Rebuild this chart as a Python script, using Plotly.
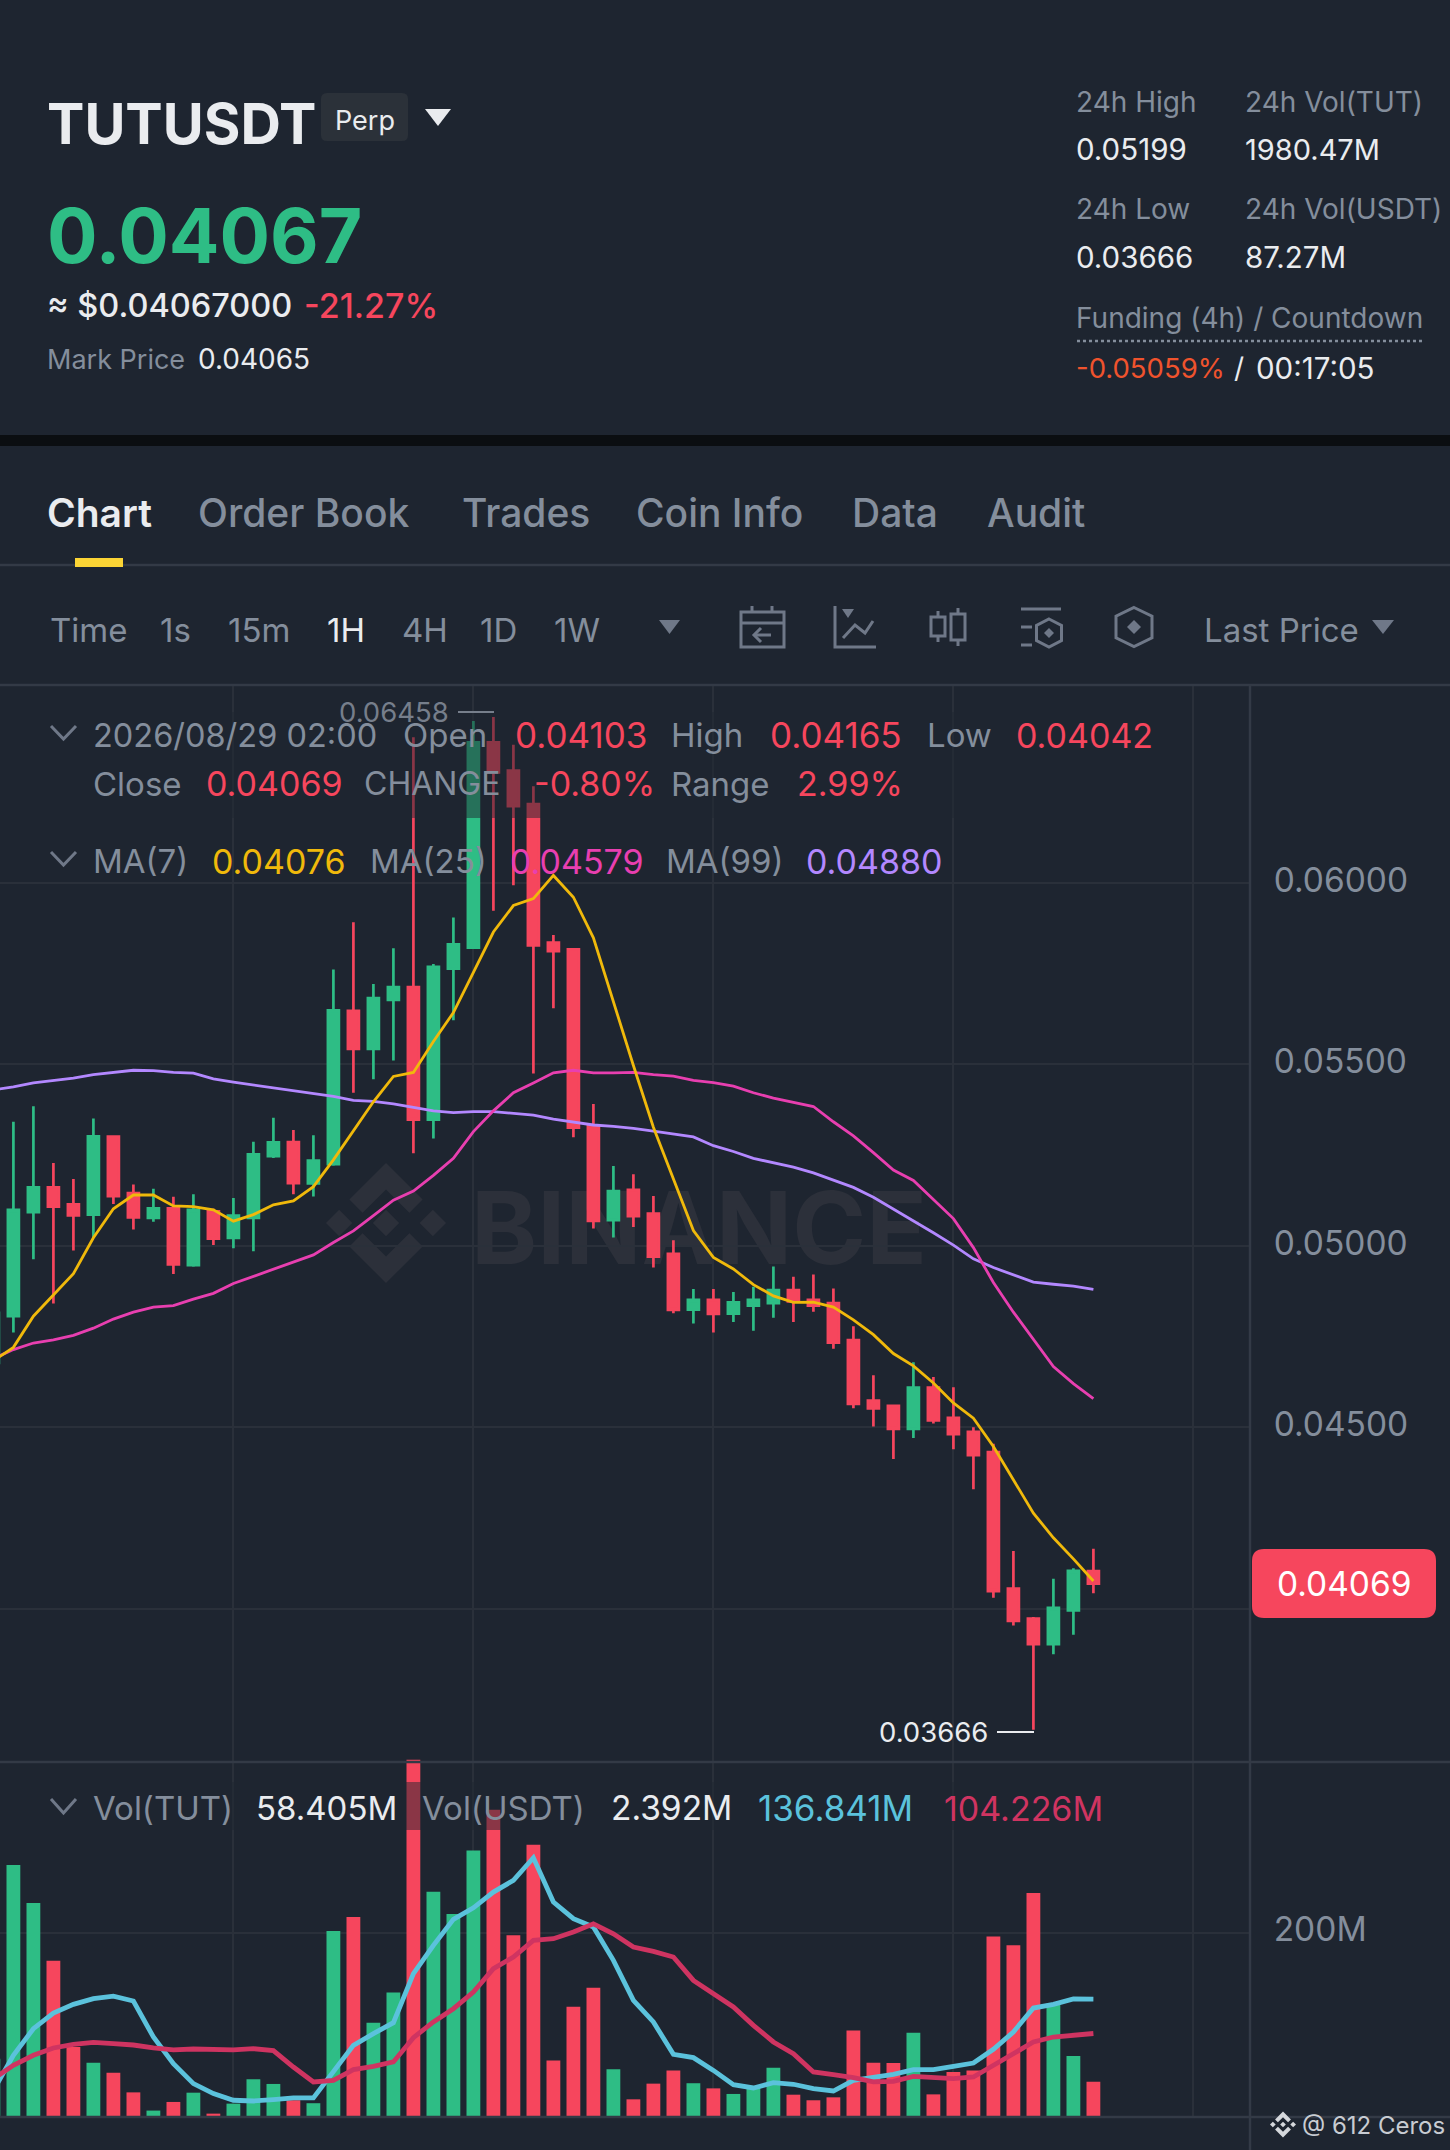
import plotly.graph_objects as go

# ---------- data ----------
candle_index = list(range(-1, 55))
opens = [.04677,.04806,.05093,.05161,.05114,.05086,.05301,.05145,.05077,.05103,.04947,.05095,.05022,.05077,.05247,.05286,.05172,.05225,.05648,.05543,.05678,.05713,.05348,.05764,.05822,.06388,.06310,.06218,.05836,.05817,.05329,.05071,.05154,.05089,.04978,.04824,.04851,.04813,.04835,.04842,.04878,.04851,.04842,.04740,.04573,.04559,.04495,.04609,.04526,.04487,.04431,.04055,.03972,.03902,.03995,.04103]
highs = [.04830,.05342,.05385,.05228,.05184,.05351,.05305,.05169,.05157,.05135,.05142,.05102,.05132,.05287,.05353,.05319,.05305,.05762,.05892,.05722,.05820,.06402,.05777,.05905,.06447,.06458,.06381,.06267,.05857,.05817,.05391,.05220,.05197,.05137,.05015,.04881,.04881,.04873,.04887,.04943,.04915,.04921,.04882,.04778,.04643,.04559,.04679,.04638,.04610,.04500,.04454,.04159,.03977,.04082,.04111,.04165]
lows = [.04660,.04761,.04963,.04841,.04987,.05022,.05115,.05045,.05066,.04922,.04942,.05002,.04993,.04985,.05242,.05142,.05136,.05221,.05422,.05459,.05511,.05255,.05296,.05622,.05820,.05924,.05994,.05475,.05655,.05299,.05048,.05023,.05052,.04940,.04814,.04786,.04761,.04790,.04766,.04802,.04790,.04818,.04716,.04552,.04502,.04412,.04470,.04510,.04439,.04329,.04030,.03953,.03666,.03874,.03928,.04042]
closes = [.04815,.05099,.05161,.05108,.05084,.05302,.05137,.05078,.05103,.04949,.05099,.05020,.05083,.05252,.05285,.05173,.05235,.05649,.05543,.05683,.05713,.05348,.05769,.05831,.06388,.06305,.06212,.05828,.05812,.05326,.05069,.05151,.05082,.04970,.04823,.04851,.04812,.04844,.04851,.04878,.04847,.04835,.04733,.04564,.04552,.04495,.04609,.04519,.04481,.04423,.04048,.03966,.03902,.04002,.04104,.04069]
ma7 = [.04683,.0472,.04806,.04864,.04923,.05022,.05102,.0514,.0514,.0511,.05108,.05099,.05068,.05086,.05113,.05124,.05163,.05237,.05317,.05397,.05467,.05478,.05563,.05643,.05754,.05865,.05938,.05957,.06021,.05961,.05849,.05672,.05497,.05327,.05183,.05042,.04968,.04936,.04893,.04862,.04844,.04845,.04831,.04796,.04755,.04703,.04669,.04622,.04567,.04525,.04447,.04355,.04263,.04195,.04137,.04076]
ma25 = [.04689,.04714,.04732,.04741,.04753,.04773,.04798,.04817,.04831,.04835,.04853,.04869,.04896,.04916,.04936,.04955,.04975,.05009,.05041,.05083,.05126,.05151,.05194,.05241,.05315,.05372,.05422,.05449,.05477,.05484,.05477,.05477,.05478,.05472,.05468,.05456,.0545,.0544,.05422,.05407,.05395,.05384,.05342,.05303,.05257,.05209,.0518,.05128,.05075,.04995,.04899,.04817,.04743,.04667,.0462,.04579]
ma99 = [.0543,.05438,.05449,.05456,.05462,.05472,.05479,.05484,.05483,.05478,.05476,.0546,.05451,.05443,.05435,.05427,.0542,.05412,.05401,.05398,.05391,.05381,.05372,.05367,.0537,.0537,.05366,.0536,.05349,.0534,.05333,.05329,.05324,.05316,.05309,.053,.05276,.0526,.05241,.05229,.05217,.05201,.05182,.05161,.05134,.05102,.05069,.05036,.05002,.04964,.0494,.04919,.049,.04894,.04889,.0488]
volume_m = [80.3,264.3,228.2,173.4,91.4,76.5,67,48.3,31,39.2,48,28.1,37.6,60.7,56.3,40.8,38,201.6,214.9,114.5,143.3,364.3,238.9,217.7,278.2,316.8,197.5,283.6,78.7,129.7,147.8,70.2,41.7,56.6,69,57,52.1,46.8,53.4,71.8,46.1,40.8,43.6,107.2,76.5,76.2,105,46.4,67.7,69.2,196.5,188,237.7,132.6,82.9,58.405]
vol_ma7 = [50,83.5,108.8,123.7,131.9,137.3,139.8,135.1,100.9,75.6,56.6,47.1,40.8,40.1,41.4,43,43,67.7,93,104.1,114.5,161.1,188,212.7,223.7,238.6,249.7,271.2,229.1,213.3,205.4,173.7,135.7,115.2,84.4,81.3,69.2,55.6,52.5,57.5,56,51.8,49.6,59.7,62.9,65.4,69.9,69.9,73,76.2,89.2,105.7,128.4,131.9,137,136.841]
vol_ma25 = [61.3,74,83.5,90.5,93.9,95.8,94.6,93.3,90.5,88.6,89.5,88.6,88.6,89.8,87.9,72.4,58.2,59.7,69.9,73,77.2,100.3,115.2,127.8,143.6,165.8,176.9,192.7,194.3,200.6,208.5,199,186.4,182.3,176.9,154.7,142.1,129.4,112,96.2,85,67.7,65.1,62.3,58.2,58.8,63.5,62.3,61.3,62.9,74,84.4,96.2,100.9,103.1,104.226]
price_ticks = [0.04, 0.045, 0.05, 0.055, 0.06]
price_tick_labels = ["", "0.04500", "0.05000", "0.05500", "0.06000"]
vol_ticks = [200]
vol_tick_labels = ["200M"]
time_grid = [11, 23, 35, 47, 59]

# ---------- page geometry ----------
W, H = 1450, 2150
FONT = "Inter"
BG, UP, DOWN = "#1e2530", "#2ebd85", "#f6465d"
GRID, SEP = "#2a303a", "#333a46"
GRAY, DIM, WHITE = "#848e9c", "#6f7888", "#eaecef"
px = lambda x: x / W
py = lambda y: 1 - y / H

annotations, shapes = [], []

def txt(x, y, text, size, color, anchor="left", weight=None):
    if anchor == "left":
        x -= 2
    annotations.append(dict(x=px(x), y=py(y), xref="paper", yref="paper", text=text, showarrow=False,
                            xanchor=anchor, yanchor="middle", borderpad=0,
                            font=dict(family=FONT, size=size, color=color, weight=weight)))

def path(points, closed=False):
    s = "M" + " L".join(f"{px(a):.5f},{py(b):.5f}" for a, b in points)
    return s + (" Z" if closed else "")

def stroke(points, color=DIM, width=2.5, closed=False, layer="above"):
    shapes.append(dict(type="path", xref="paper", yref="paper", path=path(points, closed),
                       line=dict(color=color, width=width), layer=layer))

def fill(points, color, layer="above"):
    shapes.append(dict(type="path", xref="paper", yref="paper", path=path(points, True),
                       fillcolor=color, line=dict(width=0), layer=layer))

def rect(x0, y0, x1, y1, color, layer="above"):
    shapes.append(dict(type="rect", xref="paper", yref="paper", x0=px(x0), x1=px(x1), y0=py(y1), y1=py(y0),
                       fillcolor=color, line=dict(width=0), layer=layer))

def rounded(x0, y0, x1, y1, r, color, layer="above"):
    fx, fy = px, py
    d = (f"M{fx(x0+r)},{fy(y0)} L{fx(x1-r)},{fy(y0)} Q{fx(x1)},{fy(y0)} {fx(x1)},{fy(y0+r)} "
         f"L{fx(x1)},{fy(y1-r)} Q{fx(x1)},{fy(y1)} {fx(x1-r)},{fy(y1)} L{fx(x0+r)},{fy(y1)} "
         f"Q{fx(x0)},{fy(y1)} {fx(x0)},{fy(y1-r)} L{fx(x0)},{fy(y0+r)} Q{fx(x0)},{fy(y0)} {fx(x0+r)},{fy(y0)} Z")
    shapes.append(dict(type="path", xref="paper", yref="paper", path=d, fillcolor=color, line=dict(width=0), layer=layer))

def hline(y, color=SEP, width=2, x0=0, x1=W):
    shapes.append(dict(type="line", xref="paper", yref="paper", x0=px(x0), x1=px(x1), y0=py(y), y1=py(y),
                       line=dict(color=color, width=width), layer="above"))

def hexagon(cx, cy, w, h):
    return [(cx, cy-h), (cx+w, cy-h*.55), (cx+w, cy+h*.55), (cx, cy+h), (cx-w, cy+h*.55), (cx-w, cy-h*.55)]

def diamond(cx, cy, r):
    return [(cx, cy-r), (cx+r, cy), (cx, cy+r), (cx-r, cy)]

def logo(cx, cy, r, color, layer):
    for dx in (-.78, 0, .78):
        fill(diamond(cx + dx*r, cy, .22*r), color, layer)
    for sgn in (-1, 1):
        fill([(cx, cy+sgn*r), (cx+.61*r, cy+sgn*.39*r), (cx+.39*r, cy+sgn*.17*r), (cx, cy+sgn*.56*r),
              (cx-.39*r, cy+sgn*.17*r), (cx-.61*r, cy+sgn*.39*r)], color, layer)

def tri(x0, x1, y0, y1, color):
    fill([(x0, y0), (x1, y0), ((x0+x1)/2, y1)], color)

def chevron(y0, y1):
    stroke([(51, y0), (63.5, y1), (76, y0)], DIM, 3)

# ---------- header ----------
rect(0, 435, W, 446, "#0b0e11")
txt(48, 124, "TUTUSDT", 56, WHITE, weight=700)
rounded(321, 93, 408, 141, 6, "#2b3139")
txt(364.5, 120, "Perp", 27, WHITE, "center")
tri(425, 451, 109, 126, WHITE)
txt(48, 235, "0.04067", 75, UP, weight=700)
txt(48, 306, "≈ $0.04067000", 32.5, WHITE, weight=500)
txt(305, 306, "-21.27%", 34, DOWN, weight=500)
txt(48, 359, "Mark Price", 27, GRAY)
txt(199, 359, "0.04065", 28, WHITE)
for x, y, t, c, s in [(1077, 102, "24h High", GRAY, 28), (1246, 102, "24h Vol(TUT)", GRAY, 28),
                      (1077, 149, "0.05199", WHITE, 29.5), (1246, 149, "1980.47M", WHITE, 29),
                      (1077, 209, "24h Low", GRAY, 28), (1246, 209, "24h Vol(USDT)", GRAY, 28),
                      (1077, 257, "0.03666", WHITE, 29.5), (1246, 257, "87.27M", WHITE, 29.5),
                      (1077, 318, "Funding (4h) / Countdown", GRAY, 28),
                      (1077, 368, "-0.05059%", "#f0532d", 27.5), (1235, 368, "/", WHITE, 28), (1257, 368, "00:17:05", WHITE, 29.5)]:
    txt(x, y, t, s, c)
shapes.append(dict(type="line", xref="paper", yref="paper", x0=px(1077), x1=px(1422), y0=py(341), y1=py(341),
                   line=dict(color=GRAY, width=2.5, dash="dot"), layer="above"))

# ---------- tabs ----------
for x, t, c, wt in [(48, "Chart", WHITE, 600), (199, "Order Book", GRAY, 500), (463, "Trades", GRAY, 500),
                    (637, "Coin Info", GRAY, 500), (853, "Data", GRAY, 500), (988, "Audit", GRAY, 500)]:
    txt(x, 512, t, 39, c, weight=wt)
hline(565, SEP, 2.5)
rect(75, 558, 123, 567, "#fcd535")

# ---------- time bar ----------
for x, t, c in [(51, "Time", GRAY), (161, "1s", GRAY), (229, "15m", GRAY), (328, "1H", WHITE),
                (403, "4H", GRAY), (481, "1D", GRAY), (555, "1W", GRAY), (1205, "Last Price", GRAY)]:
    txt(x, 630, t, 33, c)
tri(659, 680, 620, 634, DIM)
tri(1372, 1394, 620, 634, DIM)
hline(685, SEP, 2.5)
# icon: calendar
stroke([(741, 612), (784, 612), (784, 647), (741, 647)], DIM, 3, True)
stroke([(741, 623), (784, 623)], DIM, 3)
stroke([(752, 606), (752, 612)], DIM, 3); stroke([(772, 606), (772, 612)], DIM, 3)
stroke([(771, 635), (754, 635)], DIM, 3); stroke([(761, 628), (754, 635), (761, 642)], DIM, 3)
# icon: indicators
stroke([(835, 606), (835, 647), (876, 647)], DIM, 3)
tri(842, 854, 609, 618, DIM)
stroke([(843, 638), (855, 625), (865, 633), (873, 621)], DIM, 3)
# icon: candles
stroke([(931, 617), (945, 617), (945, 636), (931, 636)], DIM, 3, True)
stroke([(938, 611), (938, 617)], DIM, 3); stroke([(938, 636), (938, 642)], DIM, 3)
stroke([(951, 614), (965, 614), (965, 640), (951, 640)], DIM, 3, True)
stroke([(958, 608), (958, 614)], DIM, 3); stroke([(958, 640), (958, 646)], DIM, 3)
# icon: layout
stroke([(1021, 609), (1061, 609)], DIM, 3)
stroke([(1021, 627), (1032, 627)], DIM, 3); stroke([(1021, 645), (1032, 645)], DIM, 3)
stroke(hexagon(1049, 633, 12.5, 14), DIM, 3, True)
fill(diamond(1049, 633, 5), DIM)
# icon: hexagon
stroke(hexagon(1134, 627, 18, 19.5), DIM, 3, True)
fill(diamond(1134, 627, 7), DIM)

# ---------- watermark ----------
logo(386, 1223, 60, "#2c303a", "below")
shapes.append(dict(type="rect", xref="paper", yref="paper", x0=px(470), x1=px(928), y0=py(1262), y1=py(1186),
                   line=dict(width=0), fillcolor="rgba(0,0,0,0)", layer="below",
                   label=dict(text="<b>BINANCE</b>", textposition="middle center",
                              font=dict(family=FONT, size=100, color="#2c303a"))))

# ---------- legend bands and legends ----------
rect(0, 712, 1160, 818, "rgba(30,37,48,0.5)")
rect(0, 1782, 1120, 1830, "rgba(30,37,48,0.5)")
chevron(726, 739)
NUM, LBL = 35, 33
for x, y, t, c, s in [(94, 735, "2026/08/29 02:00", GRAY, 32.5), (404, 735, "Open", GRAY, LBL), (516, 735, "0.04103", DOWN, NUM),
                      (672, 735, "High", GRAY, LBL), (771, 735, "0.04165", DOWN, NUM), (928, 735, "Low", GRAY, LBL), (1017, 735, "0.04042", DOWN, 34),
                      (94, 784, "Close", GRAY, LBL), (207, 784, "0.04069", DOWN, 34), (365, 784, "CHANGE", GRAY, 32), (535, 784, "-0.80%", DOWN, 34),
                      (672, 784, "Range", GRAY, LBL), (798, 784, "2.99%", DOWN, 34),
                      (94, 861, "MA(7)", GRAY, LBL), (213, 861, "0.04076", "#f0b90b", 34), (371, 861, "MA(25)", GRAY, LBL), (511, 861, "0.04579", "#e83fb0", 34),
                      (667, 861, "MA(99)", GRAY, LBL), (807, 861, "0.04880", "#b388ff", 34),
                      (94, 1808, "Vol(TUT)", GRAY, LBL), (257, 1808, "58.405M", WHITE, LBL), (423, 1808, "Vol(USDT)", GRAY, LBL),
                      (612, 1808, "2.392M", WHITE, 33.5), (759, 1808, "136.841M", "#5bc2dc", 35), (945, 1808, "104.226M", "#cf3461", 34)]:
    txt(x, y, t, s, c)
chevron(852, 865)
chevron(1799, 1813)

# ---------- high / low marks ----------
txt(450, 712, "0.06458", 27.5, "#767e8b", "right")
hline(712, "#767e8b", 2, 458, 494)
txt(988.5, 1732, "0.03666", 27.5, WHITE, "right")
hline(1732, WHITE, 2, 997, 1034)

# ---------- last price tag ----------
rounded(1252, 1549, 1436, 1618, 12, DOWN)
txt(1344, 1584, "0.04069", 33.5, "#ffffff", "center")

# ---------- pane lines ----------
hline(1762, SEP, 2.5)
hline(2117, SEP, 2.5)
shapes.append(dict(type="line", xref="paper", yref="paper", x0=px(1250), x1=px(1250), y0=py(685), y1=0,
                   line=dict(color=SEP, width=2.5), layer="above"))

# ---------- footer ----------
logo(1283, 2124.5, 13, "#d5d8dc", "above")
txt(1303, 2125, "@ 612 Ceros", 24, "#c8ccd2")

# ---------- traces ----------
fig = go.Figure()
fig.add_trace(go.Candlestick(x=candle_index, open=opens, high=highs, low=lows, close=closes,
                             increasing=dict(line=dict(color=UP, width=2.7), fillcolor=UP),
                             decreasing=dict(line=dict(color=DOWN, width=2.7), fillcolor=DOWN),
                             whiskerwidth=0, xaxis="x", yaxis="y", showlegend=False))
for name, vals, color in [("MA(99)", ma99, "#b388ff"), ("MA(25)", ma25, "#e83fb0"), ("MA(7)", ma7, "#f0b90b")]:
    fig.add_trace(go.Scatter(x=candle_index, y=vals, mode="lines", name=name,
                             line=dict(color=color, width=2.8), xaxis="x", yaxis="y", showlegend=False))
bar_colors = [UP if c > o else DOWN for o, c in zip(opens, closes)]
fig.add_trace(go.Bar(x=candle_index, y=volume_m, marker=dict(color=bar_colors, line=dict(width=0)), width=0.69,
                     xaxis="x2", yaxis="y2", showlegend=False))
for name, vals, color in [("Vol MA(7)", vol_ma7, "#5bc2dc"), ("Vol MA(25)", vol_ma25, "#cf3461")]:
    fig.add_trace(go.Scatter(x=candle_index, y=vals, mode="lines", name=name,
                             line=dict(color=color, width=4.8), xaxis="x2", yaxis="y2", showlegend=False))

x_range = [-0.67, 61.83]
x_common = dict(domain=[0, px(1250)], range=x_range, tickmode="array", tickvals=time_grid, showticklabels=False,
                ticks="", showgrid=True, gridcolor=GRID, gridwidth=2, zeroline=False, showline=False)
y_common = dict(side="right", tickmode="array", ticks="outside", ticklen=16, tickcolor="rgba(0,0,0,0)",
                showgrid=True, gridcolor=GRID, gridwidth=2, zeroline=False, showline=False, ticklabelshift=-3,
                tickfont=dict(family=FONT, size=33.5, color=GRAY))

fig.update_layout(
    width=W, height=H, autosize=False, margin=dict(l=0, r=0, t=0, b=0),
    paper_bgcolor=BG, plot_bgcolor="rgba(0,0,0,0)", showlegend=False,
    boxgap=0.45, boxgroupgap=0, barmode="overlay", hovermode=False,
    xaxis=dict(**x_common, anchor="y", rangeslider=dict(visible=False)),
    xaxis2=dict(**x_common, anchor="y2"),
    yaxis=dict(**y_common, domain=[py(1762), py(685)], range=[.03577, .06546], anchor="x",
               tickvals=price_ticks, ticktext=price_tick_labels),
    yaxis2=dict(**y_common, domain=[py(2117), py(1758)], range=[24.9, 366], anchor="x2",
                tickvals=vol_ticks, ticktext=vol_tick_labels),
    annotations=annotations, shapes=shapes,
)
fig.write_html("out.html", config=dict(displayModeBar=False),
               post_script="document.body.style.margin='0';document.body.style.background='#1e2530';")
